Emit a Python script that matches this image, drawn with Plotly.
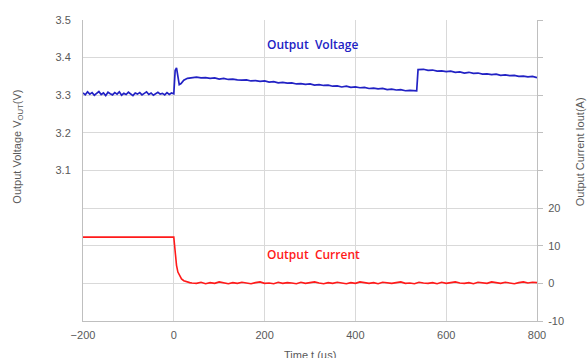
import plotly.graph_objects as go

# ---- data ----
t_pre = list(range(-200, 5, 5))
v_pre = [3.306, 3.301, 3.309, 3.303, 3.307, 3.300, 3.305, 3.310, 3.302, 3.306,
         3.299, 3.308, 3.304, 3.301, 3.307, 3.303, 3.309, 3.300, 3.305, 3.302,
         3.308, 3.304, 3.299, 3.306, 3.303, 3.307, 3.301, 3.305, 3.309, 3.302,
         3.306, 3.300, 3.304, 3.308, 3.303, 3.305, 3.301, 3.307, 3.302, 3.306,
         3.304]
t_trans = [1, 3, 6, 9, 12, 16, 22, 30, 40]
v_trans = [3.335, 3.366, 3.373, 3.345, 3.328, 3.331, 3.340, 3.345, 3.347]
t_decl = list(range(50, 540, 10))
v_decl = [3.348, 3.346, 3.347, 3.345, 3.346, 3.343, 3.345, 3.342, 3.343, 3.341,
          3.340, 3.341, 3.338, 3.339, 3.337, 3.338, 3.335, 3.336, 3.333, 3.334,
          3.332, 3.333, 3.330, 3.331, 3.329, 3.330, 3.327, 3.328, 3.326, 3.327,
          3.324, 3.325, 3.322, 3.324, 3.321, 3.322, 3.320, 3.321, 3.318, 3.319,
          3.317, 3.318, 3.315, 3.316, 3.314, 3.315, 3.312, 3.313, 3.311]
t_step = [535, 538]
v_step = [3.312, 3.368]
t_post = list(range(550, 810, 10))
v_post = [3.369, 3.366, 3.367, 3.364, 3.365, 3.363, 3.364, 3.361, 3.362, 3.359,
          3.361, 3.358, 3.359, 3.356, 3.357, 3.355, 3.356, 3.353, 3.354, 3.352,
          3.353, 3.350, 3.351, 3.349, 3.350, 3.347]

t_i_pre = [-200, -100, 0]
i_pre = [12.3, 12.3, 12.3]
t_i_trans = [1, 3, 6, 9, 13, 17, 22, 28, 35]
i_trans = [11.0, 8.0, 4.8, 3.0, 2.0, 1.2, 0.7, 0.4, 0.2]
t_i_tail = list(range(40, 810, 10))
i_tail = [0.1, 0.0, 0.3, -0.1, 0.2, 0.0, 0.4, 0.1, -0.1, 0.2,
          0.0, 0.3, 0.1, -0.1, 0.2, 0.4, 0.0, 0.1, -0.1, 0.3,
          0.0, 0.2, 0.1, -0.1, 0.3, 0.0, 0.2, 0.4, 0.1, -0.1,
          0.2, 0.0, 0.3, 0.1, -0.1, 0.2, 0.0, 0.4, 0.1, 0.0,
          0.2, -0.1, 0.3, 0.1, 0.0, 0.2, 0.4, 0.0, 0.1, -0.1,
          0.3, 0.1, 0.0, 0.2, -0.1, 0.3, 0.0, 0.2, 0.4, 0.1,
          0.0, 0.2, -0.1, 0.3, 0.1, 0.0, 0.4, 0.2, 0.0, 0.3,
          0.1, -0.1, 0.2, 0.4, 0.1, 0.3, 0.2]

x_ticks = [-200, 0, 200, 400, 600, 800]
v_tickvals = [2.7, 2.8, 2.9, 3.0, 3.1, 3.2, 3.3, 3.4, 3.5]
v_ticktext = [" ", " ", " ", " ", "3.1", "3.2", "3.3", "3.4", "3.5"]
i_tickvals = [-10, 0, 10, 20, 30, 40, 50, 60, 70]
i_ticktext = ["-10", "0", "10", "20", " ", " ", " ", " ", " "]

t_v = t_pre + t_trans + t_decl + t_step + t_post
v_all = v_pre + v_trans + v_decl + v_step + v_post
t_i = t_i_pre + t_i_trans + t_i_tail
i_all = i_pre + i_trans + i_tail

BLUE = "#2222c4"
RED = "#ff1a1a"
GRID = "#d9d9d9"
AX = "#bfbfbf"
TXT = "#595959"
FONT = "Liberation Sans, Arial, sans-serif"

fig = go.Figure()
fig.add_trace(go.Scatter(x=t_v, y=v_all, mode="lines",
                         line=dict(color=BLUE, width=1.7), yaxis="y"))
fig.add_trace(go.Scatter(x=t_i, y=i_all, mode="lines",
                         line=dict(color=RED, width=1.6), yaxis="y2"))

fig.update_layout(
    width=587, height=358,
    margin=dict(l=83, r=50, t=20, b=37),
    plot_bgcolor="white", paper_bgcolor="white",
    showlegend=False,
    font=dict(family=FONT, size=11, color=TXT),
    xaxis=dict(range=[-200, 800], tickvals=x_ticks, showgrid=True,
               gridcolor=GRID, gridwidth=1, zeroline=False,
               showline=True, linecolor=AX, linewidth=1,
               ticks="", ticklabelstandoff=4,
               tickfont=dict(size=11, color=TXT)),
    yaxis=dict(range=[2.7, 3.5], tickvals=v_tickvals, ticktext=v_ticktext,
               showgrid=True, gridcolor=GRID, gridwidth=1, zeroline=False,
               showline=True, linecolor=AX, linewidth=1,
               ticks="", ticklabelstandoff=9,
               tickfont=dict(size=11, color=TXT)),
    yaxis2=dict(range=[-10, 70], tickvals=i_tickvals, ticktext=i_ticktext,
                overlaying="y", side="right", showgrid=False, zeroline=False,
                showline=True, linecolor=AX, linewidth=1,
                ticks="outside", ticklen=5, tickcolor=AX,
                ticklabelstandoff=3,
                tickfont=dict(size=11, color=TXT)),
)

fig.add_annotation(text="Output  Voltage", xref="x", yref="y", x=305, y=3.435,
                   showarrow=False,
                   font=dict(family="Open Sans", size=12, color=BLUE, weight=600))
fig.add_annotation(text="Output  Current", xref="x", yref="y2", x=307, y=7.8,
                   showarrow=False,
                   font=dict(family="Open Sans", size=12, color=RED, weight=600))

fig.add_annotation(text="Output Voltage V<sub>OUT</sub>(V)", xref="paper", yref="paper",
                   x=-0.144, y=0.578, textangle=-90, showarrow=False,
                   xanchor="center", yanchor="middle",
                   font=dict(size=11, color=TXT))
fig.add_annotation(text="Output Current Iout(A)", xref="paper", yref="paper",
                   x=1.095, y=0.561, textangle=-90, showarrow=False,
                   xanchor="center", yanchor="middle",
                   font=dict(size=11, color=TXT))
fig.add_annotation(text="Time t (µs)", xref="paper", yref="paper",
                   x=0.5, y=-0.113, showarrow=False,
                   xanchor="center", yanchor="middle",
                   font=dict(size=11, color=TXT))

fig.write_html("out.html", config={"displayModeBar": False},
               post_script="document.body.style.margin='0px';document.body.style.overflow='hidden';")
